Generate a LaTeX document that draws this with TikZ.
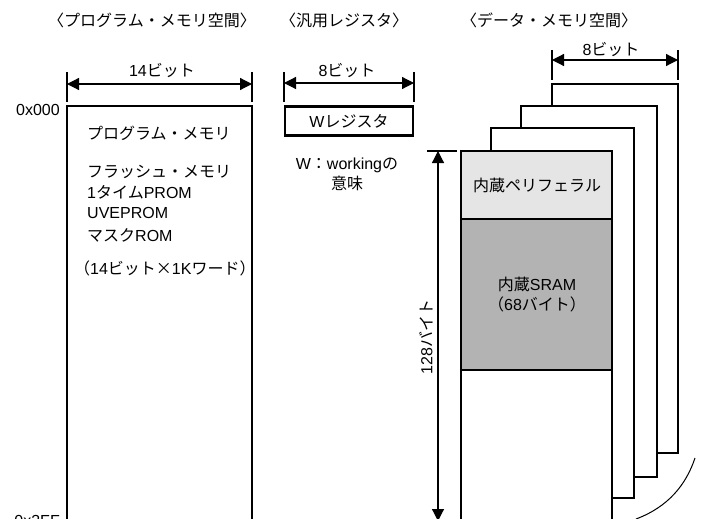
\documentclass[tikz,border=0pt]{standalone}
\usepackage{fontspec}
\setmainfont{Noto Sans CJK JP}
\newfontfamily\lat{Liberation Sans}
\newcommand{\LL}[1]{{\lat #1}}
\usetikzlibrary{arrows.meta}
\definecolor{periph}{HTML}{E5E5E5}
\definecolor{sram}{HTML}{B3B3B3}
\begin{document}
\begin{tikzpicture}[x=1pt,y=-1pt,
  every node/.style={font=\fontsize{16}{20}\selectfont, inner sep=0pt},
  thickbox/.style={line width=2.6pt},
  thinline/.style={line width=1.2pt},
  sepline/.style={line width=1.5pt},
  dimarrow/.style={line width=1.2pt, {Triangle[length=12pt,width=12pt]}-{Triangle[length=12pt,width=12pt]}},
  tick/.style={line width=1.2pt},
  lefttxt/.style={anchor=west}]
\useasboundingbox (0,0) rectangle (702,519);

% titles
\node (t1) at (152,20) {〈プログラム・メモリ空間〉};
\node (t2) at (344,20) {〈汎用レジスタ〉};
\node (t3) at (549,20) {〈データ・メモリ空間〉};

% ---------- program memory ----------
\coordinate (pmTL) at (67,106);
\coordinate (pmTR) at (252,106);
\coordinate (pmBL) at (67,530);
\coordinate (pmBR) at (252,530);
\draw[thickbox] (pmBL) -- (pmTL) -- (pmTR) -- (pmBR);
\coordinate (d1a) at (67,72); \coordinate (d1b) at (67,102);
\coordinate (d1c) at (252,72); \coordinate (d1d) at (252,102);
\draw[tick] (d1a) -- (d1b);
\draw[tick] (d1c) -- (d1d);
\coordinate (a1l) at (67,84); \coordinate (a1r) at (252,84);
\draw[dimarrow] (a1l) -- (a1r);
\node (w14) at (162,71) {\LL{14}ビット};
\node[anchor=east] (addr0) at (60,110) {\LL{0x000}};
\node[anchor=east] (addr3ff) at (60,521) {\LL{0x3FF}};

\node[lefttxt] (pm1) at (87,133) {プログラム・メモリ};
\node[lefttxt] (pm2) at (87,172) {フラッシュ・メモリ};
\node[lefttxt] (pm3) at (87,192) {\LL{1}タイム\LL{PROM}};
\node[lefttxt] (pm4) at (87,213) {\LL{UVEPROM}};
\node[lefttxt] (pm5) at (87,235) {マスク\LL{ROM}};
\node[lefttxt] (pm6) at (74,268) {（\LL{14}ビット×\LL{1K}ワード）};

% ---------- W register ----------
\node[draw, thickbox, minimum width=128pt, minimum height=29pt] (wreg) at (349,121) {\LL{W}レジスタ};
\coordinate (d2a) at (284,72); \coordinate (d2b) at (284,102);
\coordinate (d2c) at (414,72); \coordinate (d2d) at (414,102);
\draw[tick] (d2a) -- (d2b);
\draw[tick] (d2c) -- (d2d);
\coordinate (a2l) at (284,83); \coordinate (a2r) at (414,83);
\draw[dimarrow] (a2l) -- (a2r);
\node (w8a) at (347,71) {\LL{8}ビット};
\node[align=center] (wmean) at (347,174) {\LL{W}：\LL{working}の\\意味};

% ---------- data memory ----------
\draw[thinline, fill=white] (552,84) rectangle (678,453);
\draw[thinline, fill=white] (521,106) rectangle (657,477);
\draw[thinline, fill=white] (491,128) rectangle (634,498);

\fill[periph] (461,151) rectangle (612,219);
\fill[sram] (461,219) rectangle (612,370);
\fill[white] (461,370) rectangle (612,530);
\draw[sepline] (461,219) -- (612,219);
\draw[sepline] (461,370) -- (612,370);
\draw[thickbox] (461,530) -- (461,151) -- (612,151) -- (612,530);

\node (periph) at (537,185) {内蔵ペリフェラル};
\node[align=center] (sramtxt) at (537,295) {内蔵\LL{SRAM}\\（\LL{68}バイト）};

\coordinate (d3a) at (552,50); \coordinate (d3b) at (552,80);
\coordinate (d3c) at (678,50); \coordinate (d3d) at (678,80);
\draw[tick] (d3a) -- (d3b);
\draw[tick] (d3c) -- (d3d);
\coordinate (a3l) at (552,60); \coordinate (a3r) at (678,60);
\draw[dimarrow] (a3l) -- (a3r);
\node (w8b) at (611,50) {\LL{8}ビット};

% vertical 128 byte dimension
\coordinate (v1a) at (427,151); \coordinate (v1b) at (457,151);
\draw[tick] (v1a) -- (v1b);
\coordinate (v2a) at (427,522); \coordinate (v2b) at (457,522);
\draw[tick] (v2a) -- (v2b);
\coordinate (a4t) at (438,151); \coordinate (a4b) at (438,521);
\draw[dimarrow] (a4t) -- (a4b);
\node[rotate=90] (b128) at (426,337) {\LL{128}バイト};

% curve
\coordinate (c1) at (636,519);
\coordinate (c2) at (695,458);
\draw[line width=1pt] (c1) .. controls (668,507) and (686,485) .. (c2);
\end{tikzpicture}
\end{document}
